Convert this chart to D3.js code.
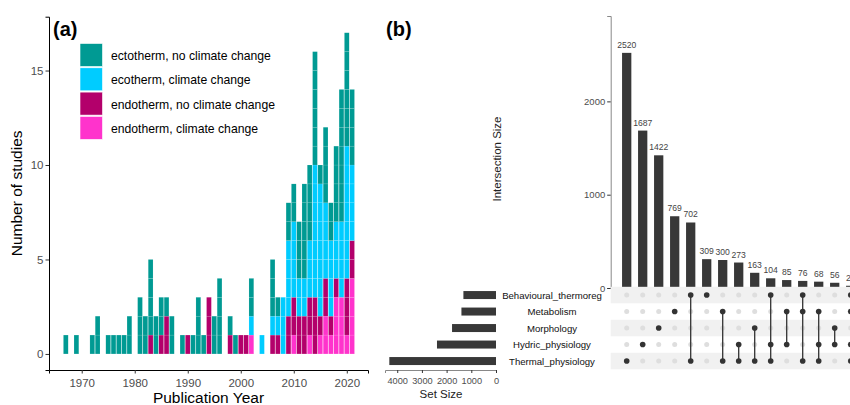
<!DOCTYPE html>
<html><head><meta charset="utf-8">
<script src="https://cdn.jsdelivr.net/npm/d3@7"></script>
<style>
html,body{margin:0;padding:0;background:#fff;}
svg{display:block;font-family:"Liberation Sans",Arial,sans-serif;}
</style></head>
<body><svg id="c" width="850" height="405"></svg>
<script>
// ---------- Panel (a) data ----------
const years    = [1967,1969,1972,1973,1975,1976,1977,1978,1979,1981,1982,1983,1984,1985,1986,1987,1989,1990,1991,1992,1993,1994,1995,1996,1998,1999,2000,2001,2002,2004,2006,2007,2008,2009,2010,2011,2012,2013,2014,2015,2016,2017,2018,2019,2020,2021];
const ectoNoCC = [1,1,1,2,1,1,1,1,2,3,2,4,2,2,1,2,1,0,1,3,1,0,2,4,1,1,0,0,2,0,3,1,0,2,2,3,5,4,6,1,4,2,4,7,6,4];
const ectoCC   = [0,0,0,0,0,0,0,0,0,0,0,0,0,0,0,0,0,0,0,0,0,0,0,0,0,0,0,0,1,1,1,1,3,4,4,2,2,3,7,7,4,4,3,4,7,4];
const endoNoCC = [0,0,0,0,0,0,0,0,0,0,0,1,0,1,2,0,0,1,0,0,0,3,0,0,1,0,1,1,0,0,1,1,0,2,2,2,2,2,3,1,2,1,1,0,3,2];
const endoCC   = [0,0,0,0,0,0,0,0,0,0,0,0,0,0,0,0,0,0,0,0,0,0,0,0,0,0,0,0,1,0,0,0,0,0,1,0,0,1,0,1,2,1,3,3,1,4];
const groupLabels = ["ectotherm, no climate change","ecotherm, climate change","endotherm, no climate change","endotherm, climate change"];
const groupColors = ["#009a93","#00ccff","#b3006b","#ff33cc"];
const yearTicks = [1970,1980,1990,2000,2010,2020];
const countTicks = [0,5,10,15];

// ---------- Panel (b) data ----------
const setNames = ["Behavioural_thermoreg","Metabolism","Morphology","Hydric_physiology","Thermal_physiology"];
const setSizes = [1320,1400,1780,2390,4320];
const intersectionSizes = [2520,1687,1422,769,702,309,300,273,163,104,85,76,68,56,24];
const intersectionSets = [
  ["Thermal_physiology"],
  ["Hydric_physiology"],
  ["Morphology"],
  ["Metabolism"],
  ["Behavioural_thermoreg","Thermal_physiology"],
  ["Behavioural_thermoreg"],
  ["Metabolism","Thermal_physiology"],
  ["Hydric_physiology","Thermal_physiology"],
  ["Morphology","Thermal_physiology"],
  ["Behavioural_thermoreg","Hydric_physiology","Thermal_physiology"],
  ["Metabolism","Hydric_physiology"],
  ["Behavioural_thermoreg","Metabolism","Thermal_physiology"],
  ["Metabolism","Hydric_physiology","Thermal_physiology"],
  ["Morphology","Hydric_physiology"],
  ["Behavioural_thermoreg","Metabolism","Hydric_physiology","Thermal_physiology"]
];
const intersectionTicks = [0,1000,2000];
const setSizeTicks = [0,1000,2000,3000,4000];

const svg = d3.select("#c");
const tickCol = "#4d4d4d";
const FF = "Liberation Sans, Arial, sans-serif";

// ================= Panel (a) =================
const ax = {l:49, r:368, t:16.7, b:370};
const x = d3.scaleLinear().domain([1963.83, 2024.0]).range([ax.l, ax.r]);
const y = d3.scaleLinear().domain([-0.85, 17.85]).range([ax.b, ax.t]);
const barW = (x(1971)-x(1970))*0.9;

// stack: bottom -> top: endoCC, endoNoCC, ectoCC, ectoNoCC
const rows = years.map((yr,i)=>({year:yr, ectoNoCC:ectoNoCC[i], ectoCC:ectoCC[i], endoNoCC:endoNoCC[i], endoCC:endoCC[i]}));
const keys = ["endoCC","endoNoCC","ectoCC","ectoNoCC"];
const keyColor = {ectoNoCC:groupColors[0], ectoCC:groupColors[1], endoNoCC:groupColors[2], endoCC:groupColors[3]};
const stacked = d3.stack().keys(keys)(rows);
const gBars = svg.append("g");
stacked.forEach(layer=>{
  layer.forEach(seg=>{
    for(let u=seg[0]; u<seg[1]; u++){
      gBars.append("rect")
        .attr("x", x(seg.data.year)-barW/2)
        .attr("width", barW)
        .attr("y", y(u+1))
        .attr("height", y(u)-y(u+1))
        .attr("fill", keyColor[layer.key])
        .attr("stroke","#ffffff").attr("stroke-width",0.35).attr("stroke-opacity",0.3);
    }
  });
});

// axes
const xAxis = svg.append("g").attr("transform",`translate(0,${ax.b})`)
  .call(d3.axisBottom(x).tickValues(yearTicks).tickFormat(d3.format("d")).tickSizeOuter(0).tickSize(3.5));
xAxis.select(".domain").attr("stroke","#000").attr("stroke-width",1);
xAxis.selectAll(".tick line").attr("stroke","#333");
xAxis.selectAll("text").attr("fill",tickCol).attr("font-size","11.5px").attr("dy","0.95em").attr("font-family",FF);
const yAxis = svg.append("g").attr("transform",`translate(${ax.l},0)`)
  .call(d3.axisLeft(y).tickValues(countTicks).tickFormat(d3.format("d")).tickSizeOuter(0).tickSize(3.5));
yAxis.select(".domain").attr("stroke","#000").attr("stroke-width",1);
yAxis.selectAll(".tick line").attr("stroke","#333");
yAxis.selectAll("text").attr("fill",tickCol).attr("font-size","11.5px").attr("x",-5.5).attr("font-family",FF);

svg.append("text").attr("x",(ax.l+ax.r)/2).attr("y",403).attr("text-anchor","middle")
  .attr("font-size","15.5px").attr("fill","#000").text("Publication Year");
svg.append("text").attr("transform",`translate(22,${(ax.t+ax.b)/2}) rotate(-90)`).attr("text-anchor","middle")
  .attr("font-size","15.5px").attr("fill","#000").text("Number of studies");
svg.append("text").attr("x",53).attr("y",36).attr("font-size","20px").attr("font-weight","bold").text("(a)");

// legend
const lg = svg.append("g");
groupLabels.forEach((lab,i)=>{
  const ky = 43.5 + i*24.3;
  lg.append("rect").attr("x",80).attr("y",ky).attr("width",22.5).attr("height",23)
    .attr("fill",groupColors[i]).attr("stroke","#fff").attr("stroke-width",0.6);
  lg.append("text").attr("x",111).attr("y",ky+11.5+1).attr("dominant-baseline","central")
    .attr("font-size","12.2px").attr("fill","#000").text(lab);
});

// ================= Panel (b) =================
svg.append("text").attr("x",386).attr("y",36).attr("font-size","20px").attr("font-weight","bold").text("(b)");

const bx0 = 610.7;
const xb = d3.scaleBand().domain(d3.range(intersectionSizes.length))
  .range([618.7, 618.7+16*intersectionSizes.length]).paddingInner(0.42).paddingOuter(0.21);
const yb = d3.scaleLinear().domain([0, 2915]).range([288, 16]);

svg.append("g").selectAll("rect").data(intersectionSizes).join("rect")
  .attr("x",(d,i)=>xb(i)).attr("width",xb.bandwidth())
  .attr("y",d=>yb(d)).attr("height",d=>yb(0)-yb(d)).attr("fill","#383838");
svg.append("g").selectAll("text").data(intersectionSizes).join("text")
  .attr("x",(d,i)=>xb(i)+xb.bandwidth()/2).attr("y",d=>yb(d)-5)
  .attr("text-anchor","middle").attr("font-size","8.6px").attr("fill","#444").text(d=>d);

const ybAxis = svg.append("g").attr("transform",`translate(${bx0},0)`)
  .call(d3.axisLeft(yb).tickValues(intersectionTicks).tickFormat(d3.format("d")).tickSizeOuter(0).tickSize(3.5));
ybAxis.select(".domain").attr("stroke","#888").attr("stroke-width",1);
ybAxis.selectAll(".tick line").attr("stroke","#333");
ybAxis.selectAll("text").attr("fill",tickCol).attr("font-size","9.5px").attr("x",-5.5).attr("font-family",FF);
svg.append("text").attr("transform",`translate(501,159) rotate(-90)`).attr("text-anchor","middle")
  .attr("font-size","11.5px").attr("fill","#222").text("Intersection Size");

// matrix
const ym = d3.scaleBand().domain(setNames).range([286.8, 369.3]);
const gm = svg.append("g");
setNames.forEach((s,i)=>{
  if(i%2===0) gm.append("rect").attr("x",bx0).attr("y",ym(s)).attr("width",850-bx0).attr("height",ym.bandwidth()).attr("fill","#f1f1f1");
});
intersectionSets.forEach((sets,i)=>{
  const cx = xb(i)+xb.bandwidth()/2;
  setNames.forEach(s=>{
    if(!sets.includes(s)) gm.append("circle").attr("cx",cx).attr("cy",ym(s)+ym.bandwidth()/2).attr("r",2.5).attr("fill","#dedede");
  });
  if(sets.length>1){
    const ys = sets.map(s=>ym(s)+ym.bandwidth()/2);
    gm.append("line").attr("x1",cx).attr("x2",cx).attr("y1",d3.min(ys)).attr("y2",d3.max(ys))
      .attr("stroke","#333").attr("stroke-width",1.3);
  }
  sets.forEach(s=>{
    gm.append("circle").attr("cx",cx).attr("cy",ym(s)+ym.bandwidth()/2).attr("r",2.8).attr("fill","#333");
  });
});

// set labels
setNames.forEach(s=>{
  svg.append("text").attr("x",552).attr("y",ym(s)+ym.bandwidth()/2).attr("dominant-baseline","central")
    .attr("text-anchor","middle").attr("font-size","9.6px").attr("fill","#111").text(s);
});

// set size bars
const xs = d3.scaleLinear().domain([0, 4495]).range([496, 385]);
svg.append("g").selectAll("rect").data(setSizes).join("rect")
  .attr("x",d=>xs(d)).attr("width",d=>xs(0)-xs(d))
  .attr("y",(d,i)=>ym(setNames[i])+ym.bandwidth()/2-4).attr("height",8).attr("fill","#383838");
const xsAxis = svg.append("g").attr("transform",`translate(0,370)`)
  .call(d3.axisBottom(xs).tickValues(setSizeTicks).tickFormat(d3.format("d")).tickSizeOuter(0).tickSize(3));
xsAxis.select(".domain").attr("stroke","#888").attr("stroke-width",1);
xsAxis.selectAll(".tick line").attr("stroke","#333");
xsAxis.selectAll("text").attr("fill",tickCol).attr("font-size","9.2px").attr("dy","0.9em").attr("font-family",FF);
svg.append("text").attr("x",441).attr("y",398).attr("text-anchor","middle")
  .attr("font-size","11.5px").attr("fill","#222").text("Set Size");
</script></body></html>
